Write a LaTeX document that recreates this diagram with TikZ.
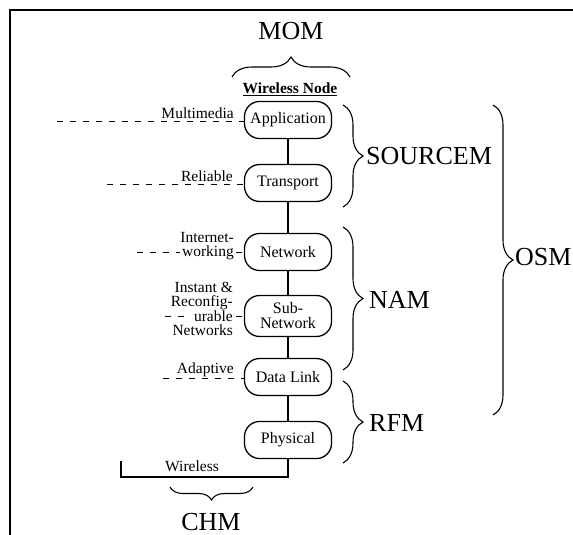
\documentclass[tikz,border=0pt]{standalone}
\usepackage{fontspec}
\setmainfont{Liberation Serif}
\usetikzlibrary{decorations.pathreplacing}
\begin{document}
\begin{tikzpicture}[x=1pt,y=-1pt,
  layer/.style={draw, line width=1.3pt, rounded corners=15pt, minimum width=87pt, minimum height=37pt, inner sep=0pt, align=center, font=\fontsize{16}{15}\selectfont},
  big/.style={font=\fontsize{26}{26}\selectfont, inner sep=0pt},
  small/.style={font=\fontsize{15.5}{14}\selectfont, inner sep=0pt, align=right},
  link/.style={line width=1.3pt},
  dashlink/.style={line width=1pt, dash pattern=on 6pt off 7pt},
  brc/.style={decorate, decoration={brace, amplitude=#1}, line width=1.1pt},
]
\useasboundingbox (0,0) rectangle (573,535);
\draw[line width=1.5pt] (10,535) -- (10,10) -- (573,10);

% layers
\node[layer] (app) at (288,120) {Application};
\node[layer] (tra) at (288,183) {Transport};
\node[layer] (net) at (288,252) {Network};
\node[layer, minimum height=41pt] (sub) at (288,316) {Sub-\\Network};
\node[layer] (dl) at (288,377) {Data Link};
\node[layer] (phy) at (288,440) {Physical};

\draw[link] (app) -- (tra);
\draw[link] (tra) -- (net);
\draw[link] (net) -- (sub);
\draw[link] (sub) -- (dl);
\draw[link] (dl) -- (phy);

% wireless link
\coordinate (wc) at (288,477);
\coordinate (wl) at (121,461);
\draw[link] (phy.south) -- (wc) -| (wl);
\node[small, anchor=base] (wlabel) at (192,471) {Wireless};

% top
\node[big] (mom) at (291,31) {MOM};
\coordinate (mb1) at (232,77);
\coordinate (mb2) at (350,77);
\draw[brc=20pt] (mb1) -- (mb2);
\node[font=\fontsize{15.5}{14}\selectfont\bfseries, inner sep=0pt] (wn) at (290,89) {\underline{Wireless Node}};

% left labels
\coordinate (d1) at (57,121);
\draw[dashlink] (d1) -- (app.west |- d1);
\node[small, anchor=base east] (l1) at (234,118) {Multimedia};

\coordinate (d2) at (107,184);
\draw[dashlink] (d2) -- (tra.west |- d2);
\node[small, anchor=base east] (l2) at (233,181) {Reliable};

\node[small, anchor=east] (l3) at (234,246) {Internet-\\working};
\coordinate (d3) at (137,252);
\coordinate (d3e) at (180,252);
\coordinate (d3s) at (236,252);
\draw[dashlink] (d3) -- (d3e);
\draw[dashlink] (d3s) -- (net.west);

\node[small, anchor=east] (l4) at (233,309) {Instant \&\\Reconfig-\\urable\\Networks};
\coordinate (d4) at (165,316);
\coordinate (d4e) at (190,316);
\coordinate (d4s) at (236,316);
\draw[dashlink] (d4) -- (d4e);
\draw[dashlink] (d4s) -- (sub.west);

\coordinate (d5) at (163,378);
\draw[dashlink] (d5) -- (dl.west |- d5);
\node[small, anchor=base east] (l5) at (234,373) {Adaptive};

% right braces
\coordinate (s1) at (343,105);
\coordinate (s2) at (343,207);
\draw[brc=20pt] (s1) -- (s2);
\node[big, anchor=west] (sourcem) at (366,156) {SOURCEM};

\coordinate (n1) at (343,227);
\coordinate (n2) at (343,370);
\draw[brc=20pt] (n1) -- (n2);
\node[big, anchor=west] (nam) at (369,300) {NAM};

\coordinate (r1) at (343,381);
\coordinate (r2) at (343,463);
\draw[brc=20pt] (r1) -- (r2);
\node[big, anchor=west] (rfm) at (369,423) {RFM};

\coordinate (o1) at (493,105);
\coordinate (o2) at (493,415);
\draw[brc=20pt] (o1) -- (o2);
\node[big, anchor=west] (osm) at (515,257) {OSM};

% bottom
\coordinate (c1) at (253,487);
\coordinate (c2) at (170,487);
\draw[brc=13pt] (c1) -- (c2);
\node[big] (chm) at (211,522) {CHM};
\end{tikzpicture}
\end{document}
